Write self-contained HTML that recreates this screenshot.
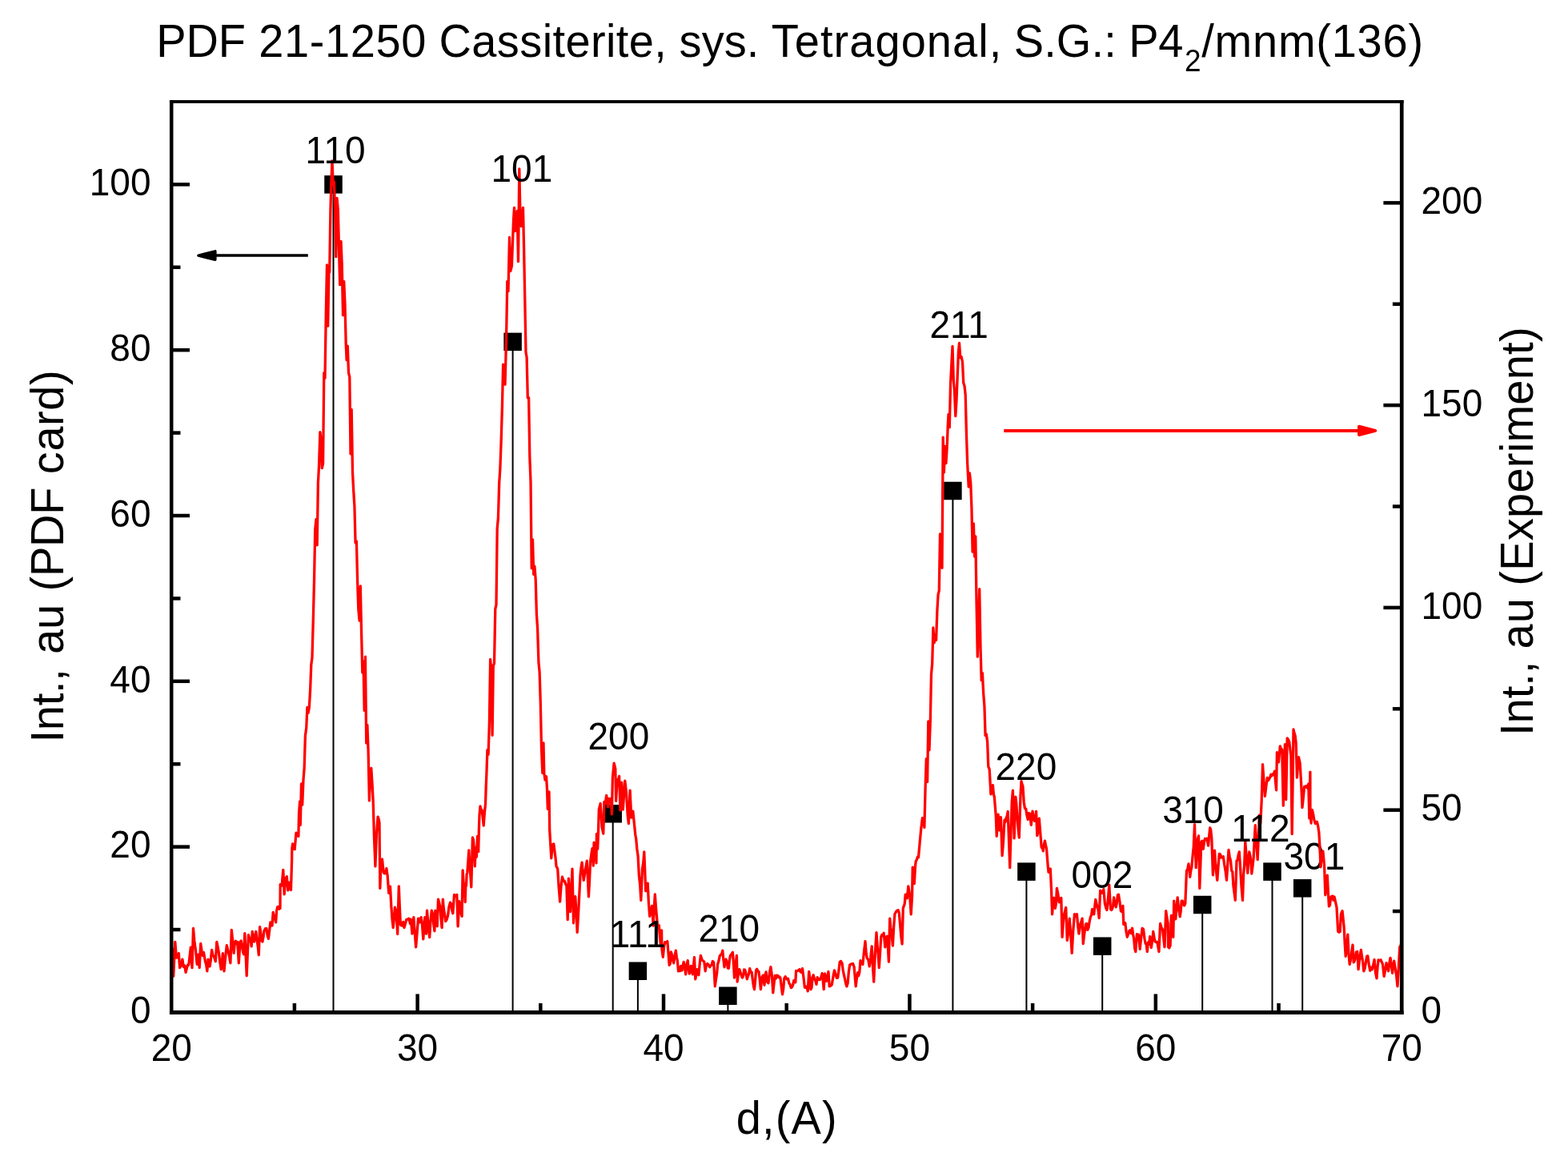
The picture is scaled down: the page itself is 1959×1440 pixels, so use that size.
<!DOCTYPE html>
<html lang="en">
<head>
<meta charset="utf-8">
<title>PDF 21-1250 Cassiterite XRD pattern</title>
<style>
html,body{margin:0;padding:0;background:#fff;}
figure{margin:0;padding:0;width:1959px;height:1440px;}
body{width:1959px;height:1440px;overflow:hidden;font-family:"Liberation Sans", sans-serif;}
svg text{font-family:"Liberation Sans", sans-serif;}
</style>
</head>
<body>
<figure id="chart">
<svg width="1959" height="1440" viewBox="0 0 1959 1440" role="img" aria-label="XRD pattern of cassiterite compared with PDF card 21-1250" font-family='"Liberation Sans", sans-serif' style="display:block">
<rect x="0" y="0" width="1959" height="1440" fill="#fff"/>
<g id="sticks" stroke="#000" stroke-width="2.0" fill="#000">
<line x1="416.50" y1="230.39" x2="416.50" y2="1264.44"/>
<line x1="640.60" y1="426.86" x2="640.60" y2="1264.44"/>
<line x1="765.70" y1="1016.27" x2="765.70" y2="1264.44"/>
<line x1="796.90" y1="1212.74" x2="796.90" y2="1264.44"/>
<line x1="909.40" y1="1243.76" x2="909.40" y2="1264.44"/>
<line x1="1190.40" y1="612.99" x2="1190.40" y2="1264.44"/>
<line x1="1282.40" y1="1088.65" x2="1282.40" y2="1264.44"/>
<line x1="1377.20" y1="1181.72" x2="1377.20" y2="1264.44"/>
<line x1="1502.20" y1="1130.01" x2="1502.20" y2="1264.44"/>
<line x1="1589.50" y1="1088.65" x2="1589.50" y2="1264.44"/>
<line x1="1627.20" y1="1109.33" x2="1627.20" y2="1264.44"/>
</g>
<g id="markers" fill="#000">
<rect x="405.25" y="219.14" width="22.5" height="22.5"/>
<rect x="629.35" y="415.61" width="22.5" height="22.5"/>
<rect x="754.45" y="1005.02" width="22.5" height="22.5"/>
<rect x="785.65" y="1201.49" width="22.5" height="22.5"/>
<rect x="898.15" y="1232.51" width="22.5" height="22.5"/>
<rect x="1179.15" y="601.74" width="22.5" height="22.5"/>
<rect x="1271.15" y="1077.40" width="22.5" height="22.5"/>
<rect x="1365.95" y="1170.47" width="22.5" height="22.5"/>
<rect x="1490.95" y="1118.76" width="22.5" height="22.5"/>
<rect x="1578.25" y="1077.40" width="22.5" height="22.5"/>
<rect x="1615.95" y="1098.08" width="22.5" height="22.5"/>
</g>
<g id="peak-labels-under" fill="#000">
<text transform="translate(1603.50,1085.90) scale(1,1.05)" font-size="46">301</text>
</g>
<clipPath id="plotclip"><rect x="214.20" y="126.98" width="1538.05" height="1137.46"/></clipPath>
<path id="xrd" clip-path="url(#plotclip)" d="M214.2,1199.6 L215.4,1185.2 L216.7,1219.2 L217.7,1197.8 L218.8,1176.4 L220.4,1196.1 L221.9,1195.9 L223.3,1190.6 L224.6,1208.6 L225.7,1206.9 L226.8,1203.4 L227.9,1198.1 L229.3,1207.6 L230.7,1206.0 L232.1,1214.4 L233.3,1209.7 L234.6,1204.8 L235.8,1205.0 L237.1,1193.8 L238.3,1183.1 L240.0,1208.6 L241.5,1159.3 L242.8,1174.7 L244.2,1185.0 L245.2,1194.7 L246.2,1204.4 L247.9,1192.2 L249.2,1208.6 L250.7,1178.5 L252.0,1187.3 L253.3,1193.6 L254.4,1189.4 L255.4,1194.7 L256.5,1201.1 L257.6,1204.5 L258.8,1212.8 L260.0,1198.1 L261.0,1206.9 L262.1,1206.9 L263.3,1198.9 L264.6,1186.4 L266.0,1193.1 L267.5,1195.0 L269.3,1200.7 L270.8,1176.4 L272.1,1182.6 L273.3,1189.2 L274.8,1201.5 L276.2,1210.7 L277.3,1202.3 L278.3,1190.6 L280.0,1212.8 L281.1,1201.2 L282.2,1190.1 L283.3,1180.6 L284.5,1185.8 L285.6,1190.2 L286.8,1195.7 L287.9,1202.8 L289.3,1161.4 L290.7,1175.1 L292.1,1190.3 L293.3,1177.5 L294.4,1175.3 L295.6,1178.7 L296.7,1176.4 L298.3,1202.8 L300.0,1176.4 L301.2,1175.0 L302.5,1181.7 L303.5,1188.9 L304.6,1191.9 L305.8,1165.6 L307.0,1190.5 L308.2,1218.6 L309.3,1191.8 L310.4,1167.7 L312.1,1173.3 L313.1,1174.3 L314.2,1181.9 L315.2,1163.5 L316.3,1169.4 L317.5,1176.1 L318.7,1169.2 L319.8,1163.5 L321.0,1173.7 L322.2,1181.7 L323.3,1192.8 L324.6,1157.7 L325.7,1164.0 L326.8,1174.5 L327.9,1176.1 L329.0,1170.3 L330.0,1162.5 L331.5,1159.7 L332.9,1159.7 L334.2,1168.4 L335.4,1172.3 L336.7,1161.8 L337.9,1151.8 L339.0,1155.4 L340.0,1156.1 L341.2,1139.3 L342.4,1145.1 L343.5,1146.8 L344.6,1151.9 L345.6,1137.5 L346.7,1132.7 L347.8,1132.4 L348.9,1135.2 L350.0,1134.4 L350.2,1104.7 L351.1,1104.5 L352.1,1106.1 L353.8,1086.4 L355.2,1116.9 L356.7,1097.5 L358.3,1094.7 L359.8,1111.9 L361.5,1102.2 L362.5,1108.0 L363.5,1111.5 L364.6,1075.0 L364.8,1060.0 L365.6,1053.9 L366.9,1059.7 L368.2,1060.7 L370.0,1040.2 L371.5,1043.3 L372.9,1044.4 L373.5,1016.7 L374.6,1000.8 L375.3,1030.4 L376.5,978.9 L377.7,1005.1 L379.0,973.9 L380.2,958.8 L381.4,918.7 L382.7,909.5 L383.9,883.4 L385.1,890.3 L386.3,883.8 L387.6,861.8 L388.8,830.3 L390.0,821.2 L391.3,774.4 L392.5,726.4 L393.7,661.7 L395.0,648.7 L396.2,680.8 L397.4,603.5 L398.6,580.4 L399.9,539.7 L401.1,549.1 L402.3,584.6 L403.6,578.8 L404.8,465.7 L406.0,472.3 L407.3,390.2 L408.5,330.8 L409.7,407.2 L410.9,340.8 L411.7,340.0 L412.9,262.0 L414.0,225.0 L415.0,200.8 L416.2,230.6 L417.4,227.4 L418.6,262.0 L419.8,320.6 L421.0,247.4 L422.3,262.0 L423.5,310.0 L424.7,355.6 L426.0,301.4 L427.2,330.0 L428.5,393.6 L429.7,351.4 L431.0,380.0 L432.2,430.0 L433.1,449.6 L434.3,432.1 L435.5,465.3 L436.8,470.8 L438.0,566.8 L439.2,511.5 L440.5,589.6 L441.7,612.8 L442.9,632.2 L444.1,678.0 L445.4,676.1 L446.6,725.0 L447.8,761.1 L449.1,775.0 L450.3,731.8 L451.5,787.5 L452.8,840.0 L454.0,826.0 L455.2,887.4 L456.4,820.2 L457.7,928.0 L458.9,905.5 L460.1,937.8 L461.4,999.9 L462.6,968.7 L463.8,959.4 L465.0,978.3 L466.2,1000.8 L466.8,1022.5 L467.5,1046.7 L468.9,1081.9 L470.4,1041.7 L472.1,1020.1 L473.0,1022.5 L474.0,1027.5 L474.8,1109.4 L476.2,1075.0 L477.5,1073.1 L479.2,1089.4 L480.4,1090.9 L481.7,1090.4 L482.9,1084.7 L484.2,1094.2 L485.7,1115.3 L485.8,1107.5 L487.5,1107.2 L488.8,1131.7 L490.0,1147.8 L491.2,1158.6 L492.3,1148.7 L493.3,1133.1 L495.0,1138.3 L496.7,1166.5 L498.3,1106.8 L499.4,1133.7 L500.4,1155.0 L502.1,1156.1 L503.8,1151.4 L505.0,1158.6 L506.2,1154.4 L507.9,1148.3 L509.4,1148.2 L510.8,1147.2 L512.5,1153.6 L513.3,1148.1 L515.0,1166.1 L516.8,1145.6 L518.2,1164.2 L519.6,1182.8 L521.0,1166.5 L522.5,1147.2 L523.5,1147.3 L524.6,1151.9 L526.2,1145.6 L527.5,1155.3 L528.8,1172.8 L529.8,1157.0 L530.8,1145.6 L532.5,1166.1 L533.5,1137.2 L534.6,1149.3 L535.6,1160.7 L536.7,1170.7 L538.0,1150.1 L539.3,1137.2 L540.5,1141.0 L541.7,1153.5 L542.9,1162.8 L543.8,1137.2 L545.0,1146.6 L546.2,1156.9 L547.5,1123.1 L548.8,1128.1 L550.0,1133.3 L551.0,1147.6 L552.1,1158.6 L553.3,1123.1 L554.4,1135.3 L555.6,1142.1 L556.7,1150.7 L558.1,1148.5 L559.6,1143.3 L561.0,1132.5 L562.5,1127.2 L563.6,1128.8 L564.7,1136.8 L565.8,1140.7 L567.5,1117.5 L568.6,1119.2 L569.7,1119.3 L570.8,1117.5 L572.1,1156.9 L573.8,1125.6 L574.9,1133.3 L576.0,1140.1 L577.1,1144.4 L578.1,1086.8 L579.1,1102.1 L580.2,1108.9 L581.2,1126.5 L581.9,1103.8 L582.5,1106.4 L583.1,1091.8 L583.8,1090.0 L584.8,1077.0 L585.8,1061.8 L587.3,1086.3 L588.8,1107.8 L590.4,1046.0 L591.4,1048.6 L592.3,1058.8 L593.3,1081.9 L594.2,1058.9 L595.4,1070.3 L596.5,1044.3 L597.7,1063.6 L598.3,1038.3 L599.0,1018.3 L600.0,1006.8 L601.0,1012.2 L602.1,1011.7 L603.1,1020.3 L604.2,1031.1 L605.4,1015.0 L606.5,1004.2 L607.2,982.9 L607.9,965.8 L608.9,936.7 L610.1,942.3 L611.4,902.6 L612.6,823.5 L613.8,836.7 L615.1,918.3 L616.3,831.4 L617.5,828.5 L618.8,760.5 L620.0,755.4 L621.2,659.6 L622.4,647.0 L623.7,603.4 L624.9,584.5 L626.1,552.0 L627.4,508.6 L628.6,455.1 L629.8,466.8 L631.0,480.1 L632.5,425.0 L633.8,351.4 L635.0,363.6 L636.5,296.4 L637.8,338.6 L639.4,332.0 L640.6,300.0 L641.5,275.0 L642.5,259.4 L643.8,288.6 L645.0,278.0 L646.2,263.4 L647.5,326.6 L648.8,210.8 L650.0,270.0 L651.2,282.6 L652.4,268.0 L653.5,259.4 L654.6,310.0 L655.8,375.0 L657.0,440.0 L658.1,446.5 L659.3,496.9 L660.6,496.6 L661.8,570.0 L663.0,601.5 L664.2,709.8 L665.5,673.8 L666.7,717.3 L667.9,707.1 L669.2,723.9 L670.4,767.2 L671.6,785.0 L672.9,826.8 L674.1,839.3 L675.3,878.1 L676.5,935.1 L677.8,965.4 L679.0,928.0 L679.8,965.8 L681.0,974.0 L682.5,969.7 L683.5,985.8 L684.3,1010.3 L686.0,988.9 L686.7,1036.7 L687.7,1053.7 L688.8,1071.9 L690.2,1055.0 L691.8,1053.9 L692.8,1062.2 L693.8,1069.2 L695.0,1081.7 L696.7,1085.0 L698.1,1107.4 L699.6,1126.1 L701.0,1107.0 L702.5,1095.2 L703.8,1100.0 L705.0,1100.0 L706.5,1103.5 L707.9,1106.7 L709.2,1148.6 L710.4,1097.2 L711.5,1116.0 L712.5,1138.6 L713.8,1111.2 L715.0,1085.2 L716.5,1152.8 L717.6,1130.8 L718.8,1119.7 L720.0,1140.5 L721.2,1164.4 L722.3,1146.0 L723.3,1126.7 L725.0,1093.3 L726.0,1083.5 L727.1,1077.2 L728.1,1087.5 L729.2,1099.4 L730.8,1090.0 L732.1,1082.2 L733.3,1075.2 L734.4,1097.6 L735.4,1119.8 L736.5,1100.8 L737.5,1076.7 L739.2,1064.2 L740.0,1059.7 L741.2,1081.1 L742.1,1052.2 L743.3,1066.9 L743.8,1062.2 L745.0,1077.8 L745.4,1041.4 L746.7,1060.3 L747.3,1045.0 L748.3,1010.8 L750.2,1003.5 L751.1,1018.3 L752.1,1033.3 L753.8,1041.1 L754.8,1001.4 L756.2,1003.6 L757.7,993.5 L758.6,1000.0 L759.6,1007.8 L761.0,997.5 L762.1,998.8 L763.2,997.5 L764.4,1016.9 L765.4,970.8 L767.1,953.1 L768.8,960.0 L769.6,1000.3 L771.2,973.3 L772.4,976.5 L773.6,969.3 L775.0,1011.9 L776.7,977.2 L778.3,1011.1 L779.6,992.3 L780.8,975.1 L782.5,990.0 L784.2,1018.3 L785.4,1028.6 L787.1,987.2 L788.8,1021.1 L789.8,1018.4 L790.8,1013.1 L792.1,1025.8 L793.8,1042.5 L794.8,1048.3 L795.8,1060.0 L797.1,1069.2 L798.3,1092.5 L799.6,1104.5 L800.8,1124.4 L802.5,1085.0 L803.7,1077.8 L804.8,1063.9 L806.7,1112.8 L807.9,1109.6 L809.2,1103.1 L810.4,1127.1 L811.7,1144.4 L813.1,1137.8 L814.6,1131.4 L816.2,1156.1 L817.3,1133.9 L818.3,1116.8 L819.4,1132.3 L820.4,1143.3 L821.7,1158.6 L823.3,1155.6 L824.4,1169.7 L825.4,1180.0 L826.6,1161.9 L826.9,1185.5 L828.3,1195.3 L829.6,1182.3 L830.8,1176.7 L832.3,1177.2 L833.8,1175.6 L835.0,1190.0 L836.2,1205.3 L837.3,1203.6 L838.3,1188.9 L839.4,1192.1 L840.4,1198.3 L841.7,1202.8 L843.0,1193.7 L844.3,1187.2 L845.4,1195.5 L846.4,1200.1 L847.5,1212.8 L848.6,1208.4 L849.7,1212.6 L850.8,1206.4 L852.1,1211.9 L853.1,1206.3 L854.2,1201.4 L855.4,1207.6 L856.7,1216.9 L857.9,1205.2 L859.2,1199.7 L860.2,1209.4 L861.2,1216.1 L862.3,1212.9 L863.3,1206.4 L864.4,1212.3 L865.4,1216.9 L866.5,1205.3 L867.5,1195.6 L868.8,1222.8 L869.8,1217.4 L870.8,1210.6 L871.9,1215.1 L872.9,1217.8 L874.2,1203.9 L875.4,1193.5 L876.9,1198.3 L878.3,1200.0 L879.8,1201.1 L881.2,1212.8 L882.5,1204.9 L883.8,1203.5 L885.2,1204.9 L886.7,1207.8 L887.9,1206.1 L889.2,1205.0 L890.4,1200.5 L891.7,1201.8 L893.3,1231.9 L894.4,1223.5 L895.6,1216.1 L896.7,1204.2 L897.9,1200.3 L899.2,1194.2 L900.4,1192.4 L901.6,1191.6 L902.8,1187.2 L903.9,1198.5 L905.0,1207.8 L906.0,1200.1 L907.1,1198.1 L908.2,1201.3 L909.3,1208.9 L910.4,1209.4 L911.5,1198.5 L912.5,1193.3 L914.0,1191.5 L915.4,1189.3 L916.5,1204.2 L917.5,1221.1 L919.0,1205.0 L920.4,1193.5 L921.2,1226.1 L922.5,1215.8 L923.8,1210.6 L925.0,1214.3 L926.2,1218.4 L927.5,1221.1 L928.6,1218.6 L929.7,1211.0 L930.8,1211.4 L932.1,1216.4 L933.3,1222.8 L934.4,1219.3 L935.6,1216.4 L936.7,1209.7 L937.9,1213.6 L939.2,1214.2 L940.3,1223.4 L941.4,1231.3 L942.5,1235.7 L943.5,1225.8 L944.6,1211.8 L945.7,1210.3 L946.8,1213.0 L947.9,1213.3 L949.2,1222.7 L950.4,1235.7 L951.9,1220.9 L953.3,1218.1 L955.0,1230.3 L956.0,1217.9 L957.1,1213.9 L958.5,1226.1 L960.0,1227.8 L961.5,1214.9 L962.9,1207.7 L964.4,1218.1 L965.8,1239.8 L967.1,1227.6 L968.3,1218.3 L969.4,1222.1 L970.6,1218.2 L971.7,1218.3 L972.8,1220.5 L973.9,1219.9 L975.0,1221.7 L976.2,1231.6 L977.5,1241.9 L978.7,1235.2 L979.8,1222.1 L981.2,1219.7 L982.9,1222.8 L984.6,1222.2 L985.8,1228.0 L987.1,1229.6 L988.3,1233.6 L989.4,1232.9 L990.6,1230.4 L991.7,1224.7 L992.7,1225.3 L993.8,1226.9 L994.6,1212.5 L995.7,1212.8 L996.8,1212.4 L997.9,1211.4 L999.0,1210.8 L1000.0,1213.6 L1001.2,1214.5 L1002.5,1209.7 L1004.0,1221.1 L1005.4,1233.3 L1006.7,1233.3 L1007.9,1232.1 L1009.2,1237.8 L1010.7,1213.5 L1011.8,1221.4 L1012.9,1235.7 L1014.0,1233.5 L1015.1,1220.8 L1016.2,1217.7 L1017.5,1222.7 L1018.8,1224.6 L1020.0,1229.4 L1021.2,1220.6 L1022.7,1223.4 L1024.2,1223.6 L1025.6,1221.1 L1027.1,1215.6 L1028.1,1223.7 L1029.2,1235.7 L1030.4,1216.0 L1031.5,1219.9 L1032.5,1225.3 L1033.8,1219.6 L1035.0,1213.5 L1036.2,1231.9 L1037.7,1231.3 L1039.2,1230.0 L1040.3,1223.9 L1041.4,1217.1 L1042.5,1211.8 L1043.9,1216.5 L1045.3,1221.3 L1046.7,1221.1 L1047.9,1212.6 L1049.2,1201.4 L1050.6,1200.5 L1052.1,1203.3 L1053.1,1211.0 L1054.2,1216.7 L1055.4,1221.9 L1056.7,1228.0 L1057.9,1231.9 L1059.2,1227.6 L1060.4,1213.4 L1061.7,1205.0 L1062.9,1204.4 L1064.2,1203.9 L1065.6,1203.5 L1067.1,1207.5 L1068.1,1219.0 L1069.2,1231.9 L1070.4,1221.9 L1071.7,1214.7 L1072.7,1218.6 L1073.8,1214.4 L1075.0,1199.7 L1076.5,1202.8 L1077.9,1204.4 L1079.5,1188.6 L1081.0,1175.6 L1082.2,1190.9 L1083.3,1196.7 L1084.8,1198.5 L1086.2,1206.9 L1087.7,1196.5 L1089.2,1181.8 L1090.4,1206.5 L1091.7,1226.1 L1093.3,1190.8 L1095.0,1164.7 L1096.1,1180.8 L1097.2,1193.3 L1098.3,1208.6 L1099.6,1189.0 L1100.8,1170.0 L1101.9,1167.5 L1103.1,1168.7 L1104.2,1165.2 L1105.8,1182.8 L1107.1,1170.2 L1108.3,1169.3 L1109.4,1183.9 L1110.4,1201.1 L1111.7,1147.2 L1112.9,1158.9 L1114.2,1168.4 L1115.4,1181.1 L1116.7,1156.8 L1117.9,1141.7 L1119.4,1138.8 L1120.8,1137.2 L1122.1,1136.7 L1123.3,1140.0 L1124.6,1155.0 L1125.8,1169.5 L1127.1,1179.0 L1128.3,1134.2 L1130.2,1129.2 L1131.2,1117.2 L1132.3,1119.8 L1133.3,1121.9 L1134.8,1106.8 L1136.7,1118.3 L1138.2,1141.9 L1139.6,1118.3 L1140.2,1083.1 L1141.2,1088.5 L1142.3,1103.6 L1143.5,1081.7 L1144.2,1075.8 L1145.3,1073.7 L1146.4,1070.2 L1147.5,1070.8 L1149.2,1051.7 L1150.7,1035.8 L1152.4,1021.7 L1153.6,1023.8 L1154.9,1033.5 L1156.1,984.3 L1157.3,947.6 L1158.6,976.4 L1159.8,901.0 L1161.0,936.8 L1162.3,900.9 L1163.5,842.0 L1164.7,828.6 L1165.9,784.0 L1167.2,802.9 L1168.4,792.3 L1169.6,799.5 L1170.9,762.6 L1172.1,742.5 L1173.3,737.6 L1174.5,666.9 L1175.8,681.9 L1177.0,709.3 L1178.2,546.1 L1179.4,590.0 L1180.6,557.4 L1181.9,578.6 L1183.1,560.0 L1184.3,530.0 L1185.0,517.4 L1186.3,533.6 L1187.5,480.0 L1188.8,455.0 L1190.0,432.4 L1191.3,475.0 L1192.5,488.0 L1193.8,519.6 L1195.0,500.0 L1196.2,470.0 L1197.4,440.0 L1198.5,428.4 L1199.8,446.6 L1201.0,445.4 L1202.5,452.0 L1203.7,478.0 L1205.0,482.0 L1206.2,493.0 L1207.5,545.0 L1208.7,580.0 L1210.2,608.0 L1211.4,590.9 L1212.7,602.6 L1213.9,633.5 L1215.1,689.1 L1216.4,654.0 L1217.6,695.0 L1218.8,669.9 L1220.0,750.4 L1221.3,820.2 L1222.5,783.3 L1223.7,735.7 L1225.0,808.3 L1226.2,849.7 L1227.4,840.7 L1228.7,866.6 L1229.9,881.6 L1231.1,918.7 L1232.3,916.8 L1233.6,926.2 L1234.8,957.4 L1236.2,960.8 L1237.9,991.9 L1239.2,988.0 L1240.4,980.6 L1241.4,992.0 L1242.3,995.0 L1244.2,1018.3 L1245.2,1044.4 L1246.1,1031.6 L1247.1,1017.2 L1248.8,1036.9 L1250.4,1020.6 L1252.1,1068.6 L1253.5,1051.5 L1255.0,1024.2 L1256.0,1026.7 L1257.1,1021.7 L1258.1,1019.3 L1259.2,1013.5 L1260.4,1046.4 L1261.7,1083.6 L1262.9,1043.2 L1264.2,1001.7 L1265.4,987.2 L1267.1,1046.9 L1268.8,995.1 L1269.8,1003.4 L1270.8,1018.3 L1272.1,1035.1 L1273.3,1046.1 L1275.0,993.3 L1276.0,975.6 L1277.0,979.2 L1277.9,981.7 L1279.2,1001.7 L1280.4,1009.6 L1281.7,1010.0 L1282.9,1017.9 L1284.2,1023.6 L1285.4,1015.5 L1286.7,1016.4 L1288.3,1030.3 L1290.0,1013.1 L1291.2,1021.1 L1292.5,1025.3 L1293.5,1022.1 L1294.6,1013.5 L1295.8,1043.6 L1297.1,1037.4 L1298.3,1022.2 L1300.0,1043.3 L1301.2,1058.3 L1302.3,1058.5 L1303.3,1062.8 L1304.4,1054.5 L1305.4,1050.2 L1306.5,1055.6 L1307.5,1060.0 L1309.0,1079.2 L1310.0,1089.4 L1311.2,1085.0 L1312.3,1085.2 L1313.5,1110.5 L1314.6,1141.9 L1315.6,1129.3 L1316.7,1121.4 L1318.3,1134.4 L1319.4,1128.7 L1320.4,1109.3 L1321.9,1116.9 L1323.3,1126.9 L1324.6,1121.9 L1325.8,1121.4 L1327.1,1170.3 L1328.1,1156.0 L1329.2,1143.3 L1330.4,1138.7 L1331.7,1133.5 L1333.3,1174.4 L1334.8,1164.3 L1336.2,1147.2 L1337.5,1164.2 L1339.2,1190.3 L1340.8,1161.7 L1342.5,1141.7 L1344.0,1144.3 L1345.4,1141.7 L1346.7,1156.1 L1347.9,1166.1 L1349.0,1160.1 L1350.0,1153.3 L1351.0,1150.9 L1352.1,1147.2 L1353.3,1178.6 L1354.4,1168.8 L1355.4,1161.7 L1356.5,1154.1 L1357.5,1153.5 L1358.8,1161.4 L1360.0,1158.6 L1361.2,1150.9 L1362.5,1145.0 L1363.5,1143.1 L1364.6,1135.6 L1365.6,1138.2 L1366.7,1141.9 L1367.7,1132.7 L1368.8,1123.5 L1369.8,1127.8 L1370.8,1132.5 L1372.0,1136.3 L1373.2,1146.5 L1374.6,1112.2 L1375.8,1113.8 L1377.1,1115.3 L1378.8,1110.6 L1380.4,1128.3 L1381.7,1133.6 L1382.9,1136.5 L1384.4,1123.1 L1385.8,1105.2 L1387.5,1135.3 L1388.5,1136.6 L1389.6,1135.0 L1390.6,1130.8 L1391.7,1121.0 L1392.9,1127.8 L1394.2,1132.8 L1395.3,1127.8 L1396.4,1117.7 L1397.5,1117.2 L1399.0,1126.4 L1400.4,1137.8 L1401.7,1138.7 L1402.9,1131.4 L1403.8,1154.4 L1404.8,1154.1 L1405.8,1152.7 L1407.1,1163.7 L1408.3,1170.3 L1409.4,1167.1 L1410.6,1163.1 L1411.7,1161.7 L1413.1,1165.8 L1414.6,1159.3 L1415.6,1167.0 L1416.7,1172.5 L1417.7,1184.5 L1418.8,1188.6 L1420.4,1166.7 L1421.5,1168.5 L1422.5,1167.2 L1424.2,1185.3 L1425.6,1171.8 L1427.1,1159.3 L1428.5,1160.5 L1430.0,1172.5 L1431.1,1178.3 L1432.2,1179.5 L1433.3,1188.6 L1434.4,1177.0 L1435.6,1179.3 L1436.7,1169.7 L1438.3,1183.6 L1439.6,1175.6 L1440.8,1163.5 L1442.1,1171.6 L1443.3,1176.1 L1444.6,1176.6 L1445.8,1176.4 L1446.9,1182.6 L1447.9,1188.6 L1449.6,1153.5 L1451.0,1158.4 L1452.5,1160.8 L1453.8,1172.4 L1455.0,1182.8 L1456.7,1137.7 L1457.9,1145.9 L1459.2,1153.3 L1459.6,1182.8 L1460.8,1183.9 L1462.1,1180.8 L1463.3,1143.5 L1464.6,1150.9 L1465.8,1170.3 L1466.7,1125.2 L1467.7,1138.9 L1468.8,1147.8 L1470.0,1133.0 L1471.2,1121.0 L1472.7,1135.2 L1474.2,1144.8 L1475.2,1138.1 L1476.2,1125.2 L1477.3,1125.2 L1478.3,1129.2 L1479.6,1131.0 L1480.8,1128.6 L1482.5,1087.5 L1483.8,1085.3 L1485.0,1078.9 L1486.7,1095.3 L1487.7,1087.7 L1488.8,1083.3 L1490.0,1069.6 L1491.2,1058.3 L1492.5,1029.7 L1494.2,1083.6 L1495.8,1050.0 L1497.5,1043.9 L1498.8,1109.4 L1499.8,1080.8 L1500.8,1051.4 L1502.0,1050.3 L1503.3,1060.3 L1504.3,1052.8 L1505.4,1047.5 L1506.7,1047.9 L1507.9,1047.2 L1509.6,1056.1 L1510.7,1043.9 L1511.7,1033.9 L1512.7,1036.3 L1513.8,1046.7 L1515.4,1092.8 L1516.5,1076.6 L1517.5,1062.2 L1518.6,1078.4 L1519.7,1090.3 L1520.8,1099.4 L1522.0,1082.6 L1523.3,1066.4 L1524.5,1066.8 L1525.8,1071.1 L1527.0,1070.4 L1528.3,1069.7 L1529.7,1079.7 L1531.1,1087.8 L1532.5,1099.4 L1533.8,1079.6 L1535.0,1061.4 L1536.2,1069.8 L1537.5,1075.0 L1538.7,1087.2 L1539.8,1088.7 L1541.0,1107.1 L1542.1,1114.9 L1543.3,1124.4 L1545.0,1075.0 L1546.1,1074.2 L1547.2,1067.6 L1548.3,1063.9 L1549.7,1085.2 L1551.1,1108.3 L1552.5,1124.4 L1553.6,1092.6 L1554.7,1079.7 L1555.8,1051.4 L1557.3,1071.3 L1558.8,1090.3 L1559.8,1072.5 L1560.8,1063.9 L1562.3,1070.8 L1563.8,1091.1 L1565.0,1081.7 L1566.2,1070.8 L1567.3,1048.1 L1568.3,1030.6 L1569.8,1054.6 L1571.2,1073.6 L1572.3,1046.4 L1573.3,1018.1 L1574.8,1028.6 L1576.2,1000.0 L1577.5,954.7 L1579.0,975.0 L1580.4,994.4 L1581.8,982.6 L1583.3,971.4 L1584.3,975.0 L1585.4,973.6 L1586.7,970.9 L1587.9,967.2 L1589.0,968.9 L1590.0,966.9 L1591.2,967.1 L1592.5,963.1 L1593.5,975.8 L1594.6,986.9 L1595.4,939.7 L1596.5,947.8 L1597.5,951.9 L1599.3,931.8 L1600.5,935.8 L1601.7,935.8 L1603.3,1006.1 L1604.3,964.5 L1605.4,929.7 L1606.7,998.6 L1608.2,921.8 L1609.5,923.6 L1610.8,926.7 L1611.8,935.2 L1612.9,944.2 L1614.2,1041.6 L1616.0,911.0 L1617.1,915.8 L1618.1,918.6 L1619.2,928.3 L1620.4,971.1 L1621.5,956.9 L1622.5,945.6 L1624.2,953.3 L1625.8,981.7 L1627.0,1008.6 L1628.3,996.4 L1629.6,982.5 L1630.7,982.6 L1631.7,981.7 L1633.2,984.1 L1634.8,978.9 L1635.8,1021.9 L1636.9,964.1 L1637.0,1016.9 L1638.1,1028.2 L1638.2,1013.8 L1639.3,1011.4 L1640.5,1015.9 L1641.7,1023.3 L1643.3,1028.6 L1644.4,1026.7 L1645.4,1026.4 L1646.7,1031.7 L1647.9,1040.0 L1648.8,1055.0 L1650.0,1082.8 L1651.5,1068.2 L1652.9,1063.1 L1654.6,1081.7 L1655.8,1117.8 L1657.1,1106.3 L1658.3,1093.1 L1659.4,1115.0 L1660.4,1131.9 L1661.5,1130.5 L1662.6,1120.8 L1663.8,1119.3 L1664.9,1119.1 L1666.0,1124.4 L1667.1,1120.0 L1668.5,1126.4 L1670.0,1133.3 L1671.7,1163.3 L1672.9,1164.3 L1674.2,1163.6 L1675.4,1141.7 L1677.1,1137.7 L1678.1,1147.6 L1679.2,1158.3 L1680.2,1178.9 L1681.2,1194.4 L1682.5,1183.3 L1683.8,1167.2 L1685.0,1191.7 L1686.2,1204.4 L1687.3,1199.3 L1688.3,1191.7 L1690.0,1180.2 L1691.2,1201.9 L1692.3,1200.0 L1693.3,1195.8 L1694.5,1189.1 L1695.7,1188.5 L1697.1,1210.7 L1698.2,1201.6 L1699.3,1192.7 L1700.4,1186.4 L1701.5,1194.4 L1702.6,1200.7 L1703.8,1212.8 L1705.2,1209.4 L1706.7,1200.0 L1707.7,1194.3 L1708.8,1193.9 L1710.2,1203.8 L1711.7,1212.3 L1712.9,1208.4 L1714.2,1210.8 L1715.6,1205.5 L1717.1,1198.5 L1718.5,1214.4 L1720.0,1221.9 L1721.0,1208.3 L1722.1,1198.8 L1723.5,1199.7 L1725.0,1198.8 L1726.2,1201.3 L1727.5,1204.2 L1729.2,1219.4 L1730.6,1211.8 L1732.1,1202.7 L1733.3,1208.8 L1734.6,1212.8 L1735.8,1203.0 L1737.1,1196.4 L1738.3,1205.4 L1739.6,1215.3 L1740.6,1206.2 L1741.7,1200.2 L1743.1,1208.7 L1744.6,1218.3 L1746.0,1231.9 L1747.5,1205.8 L1748.8,1182.5 L1750.0,1181.2 L1751.2,1175.0" fill="none" stroke="#ff0000" stroke-width="3.3" stroke-linejoin="round" stroke-linecap="round"/>
<g id="peak-labels" fill="#000">
<text transform="translate(381.40,204.20) scale(1,1.05)" font-size="46" letter-spacing="0.9">110</text>
<text transform="translate(613.50,226.60) scale(1,1.05)" font-size="46">101</text>
<text transform="translate(734.50,935.60) scale(1,1.05)" font-size="46">200</text>
<text transform="translate(761.80,1182.50) scale(1,1.05)" font-size="46">111</text>
<text transform="translate(872.40,1175.60) scale(1,1.05)" font-size="46">210</text>
<text transform="translate(1161.45,421.70) scale(1,1.05)" font-size="46">211</text>
<text transform="translate(1243.50,973.80) scale(1,1.05)" font-size="46">220</text>
<text transform="translate(1338.50,1108.50) scale(1,1.05)" font-size="46">002</text>
<text transform="translate(1452.20,1027.70) scale(1,1.05)" font-size="46">310</text>
<text transform="translate(1538.30,1050.50) scale(1,1.05)" font-size="46">112</text>
</g>
<g id="arrows">
<line x1="268" y1="319.1" x2="384.8" y2="319.1" stroke="#000" stroke-width="3.5"/>
<polygon points="247.95,319.1 268.85,313.85 268.85,324.35" fill="#000" stroke="#000" stroke-width="3.5" stroke-linejoin="round"/>
<line x1="1254.2" y1="537.9" x2="1698" y2="537.9" stroke="#ff0000" stroke-width="4"/>
<polygon points="1718.2,537.9 1698,532.8 1698,543.1" fill="#ff0000" stroke="#ff0000" stroke-width="4" stroke-linejoin="round"/>
</g>
<g id="frame" fill="#000">
<rect x="211.94" y="125.06" width="4.53" height="1141.88"/>
<rect x="1748.9" y="125.06" width="4.70" height="1141.88"/>
<rect x="211.94" y="125.06" width="1541.66" height="3.84"/>
<rect x="211.94" y="1261.94" width="1541.66" height="5.00"/>
</g>
<g id="ticks" stroke="#000" stroke-width="4.5">
<line x1="367.90" y1="1264.44" x2="367.90" y2="1252.94"/>
<line x1="521.61" y1="1264.44" x2="521.61" y2="1241.44"/>
<line x1="675.32" y1="1264.44" x2="675.32" y2="1252.94"/>
<line x1="829.02" y1="1264.44" x2="829.02" y2="1241.44"/>
<line x1="982.72" y1="1264.44" x2="982.72" y2="1252.94"/>
<line x1="1136.43" y1="1264.44" x2="1136.43" y2="1241.44"/>
<line x1="1290.13" y1="1264.44" x2="1290.13" y2="1252.94"/>
<line x1="1443.84" y1="1264.44" x2="1443.84" y2="1241.44"/>
<line x1="1597.55" y1="1264.44" x2="1597.55" y2="1252.94"/>
<line x1="214.20" y1="1161.04" x2="225.47" y2="1161.04"/>
<line x1="214.20" y1="1057.63" x2="236.97" y2="1057.63"/>
<line x1="214.20" y1="954.23" x2="225.47" y2="954.23"/>
<line x1="214.20" y1="850.82" x2="236.97" y2="850.82"/>
<line x1="214.20" y1="747.42" x2="225.47" y2="747.42"/>
<line x1="214.20" y1="644.01" x2="236.97" y2="644.01"/>
<line x1="214.20" y1="540.61" x2="225.47" y2="540.61"/>
<line x1="214.20" y1="437.20" x2="236.97" y2="437.20"/>
<line x1="214.20" y1="333.79" x2="225.47" y2="333.79"/>
<line x1="214.20" y1="230.39" x2="236.97" y2="230.39"/>
<line x1="1751.25" y1="1138.06" x2="1739.90" y2="1138.06"/>
<line x1="1751.25" y1="1011.67" x2="1728.40" y2="1011.67"/>
<line x1="1751.25" y1="885.29" x2="1739.90" y2="885.29"/>
<line x1="1751.25" y1="758.90" x2="1728.40" y2="758.90"/>
<line x1="1751.25" y1="632.52" x2="1739.90" y2="632.52"/>
<line x1="1751.25" y1="506.13" x2="1728.40" y2="506.13"/>
<line x1="1751.25" y1="379.75" x2="1739.90" y2="379.75"/>
<line x1="1751.25" y1="253.36" x2="1728.40" y2="253.36"/>
</g>
<g id="tick-labels" fill="#000">
<text transform="translate(214.20,1325.20) scale(1,1.05)" font-size="46" text-anchor="middle">20</text>
<text transform="translate(521.61,1325.20) scale(1,1.05)" font-size="46" text-anchor="middle">30</text>
<text transform="translate(829.02,1325.20) scale(1,1.05)" font-size="46" text-anchor="middle">40</text>
<text transform="translate(1136.43,1325.20) scale(1,1.05)" font-size="46" text-anchor="middle">50</text>
<text transform="translate(1443.84,1325.20) scale(1,1.05)" font-size="46" text-anchor="middle">60</text>
<text transform="translate(1751.25,1325.20) scale(1,1.05)" font-size="46" text-anchor="middle">70</text>
<text transform="translate(188.50,1278.14) scale(1,1.05)" font-size="46" text-anchor="end">0</text>
<text transform="translate(188.50,1071.33) scale(1,1.05)" font-size="46" text-anchor="end">20</text>
<text transform="translate(188.50,864.52) scale(1,1.05)" font-size="46" text-anchor="end">40</text>
<text transform="translate(188.50,657.71) scale(1,1.05)" font-size="46" text-anchor="end">60</text>
<text transform="translate(188.50,450.90) scale(1,1.05)" font-size="46" text-anchor="end">80</text>
<text transform="translate(188.50,244.09) scale(1,1.05)" font-size="46" text-anchor="end">100</text>
<text transform="translate(1775.50,1278.14) scale(1,1.05)" font-size="46">0</text>
<text transform="translate(1775.50,1025.37) scale(1,1.05)" font-size="46">50</text>
<text transform="translate(1775.50,772.60) scale(1,1.05)" font-size="46">100</text>
<text transform="translate(1775.50,519.83) scale(1,1.05)" font-size="46">150</text>
<text transform="translate(1775.50,267.06) scale(1,1.05)" font-size="46">200</text>
</g>
<g id="titles" fill="#000">
<text id="title" transform="translate(0.00,71.00) scale(1,1.025)" font-size="56" xml:space="preserve"><tspan x="195.32" letter-spacing="-0.22" y="0">PDF </tspan><tspan x="323.23" letter-spacing="0.62" y="0">21-1250 </tspan><tspan x="548.52" letter-spacing="0.4" y="0">Cassiterite, </tspan><tspan x="848.58" letter-spacing="0.07" y="0">sys. </tspan><tspan x="963.78" letter-spacing="1.05" y="0">Tetragonal, </tspan><tspan x="1266.70" letter-spacing="0.12" y="0">S.G.: </tspan><tspan x="1410.25" letter-spacing="-0.4" y="0">P4</tspan><tspan x="1480.10" y="17.37" font-size="37">2</tspan><tspan x="1501.25" letter-spacing="0.77" y="0">/mnm(136)</tspan></text>
<text id="xlabel" transform="translate(0.00,1415.70) scale(1,1.025)" font-size="56" xml:space="preserve"><tspan x="919.82" letter-spacing="1.16">d,(A)</tspan></text>
<text id="ylabel-left" transform="translate(79.20,922.20) rotate(-90) scale(1,1.025)" font-size="56" xml:space="preserve"><tspan x="-5.25" letter-spacing="-0.25">Int., </tspan><tspan x="105.25" letter-spacing="-0.25">au </tspan><tspan x="183.80" letter-spacing="-0.27">(PDF </tspan><tspan x="330.05" letter-spacing="0.55">card)</tspan></text>
<text id="ylabel-right" transform="translate(1915.00,913.75) rotate(-90) scale(1,1.025)" font-size="56" xml:space="preserve"><tspan x="-5.25">Int., </tspan><tspan x="103.32" letter-spacing="1.1">au </tspan><tspan x="182.13" letter-spacing="0.25">(Experiment)</tspan></text>
</g>
</svg>
</figure>
</body>
</html>
